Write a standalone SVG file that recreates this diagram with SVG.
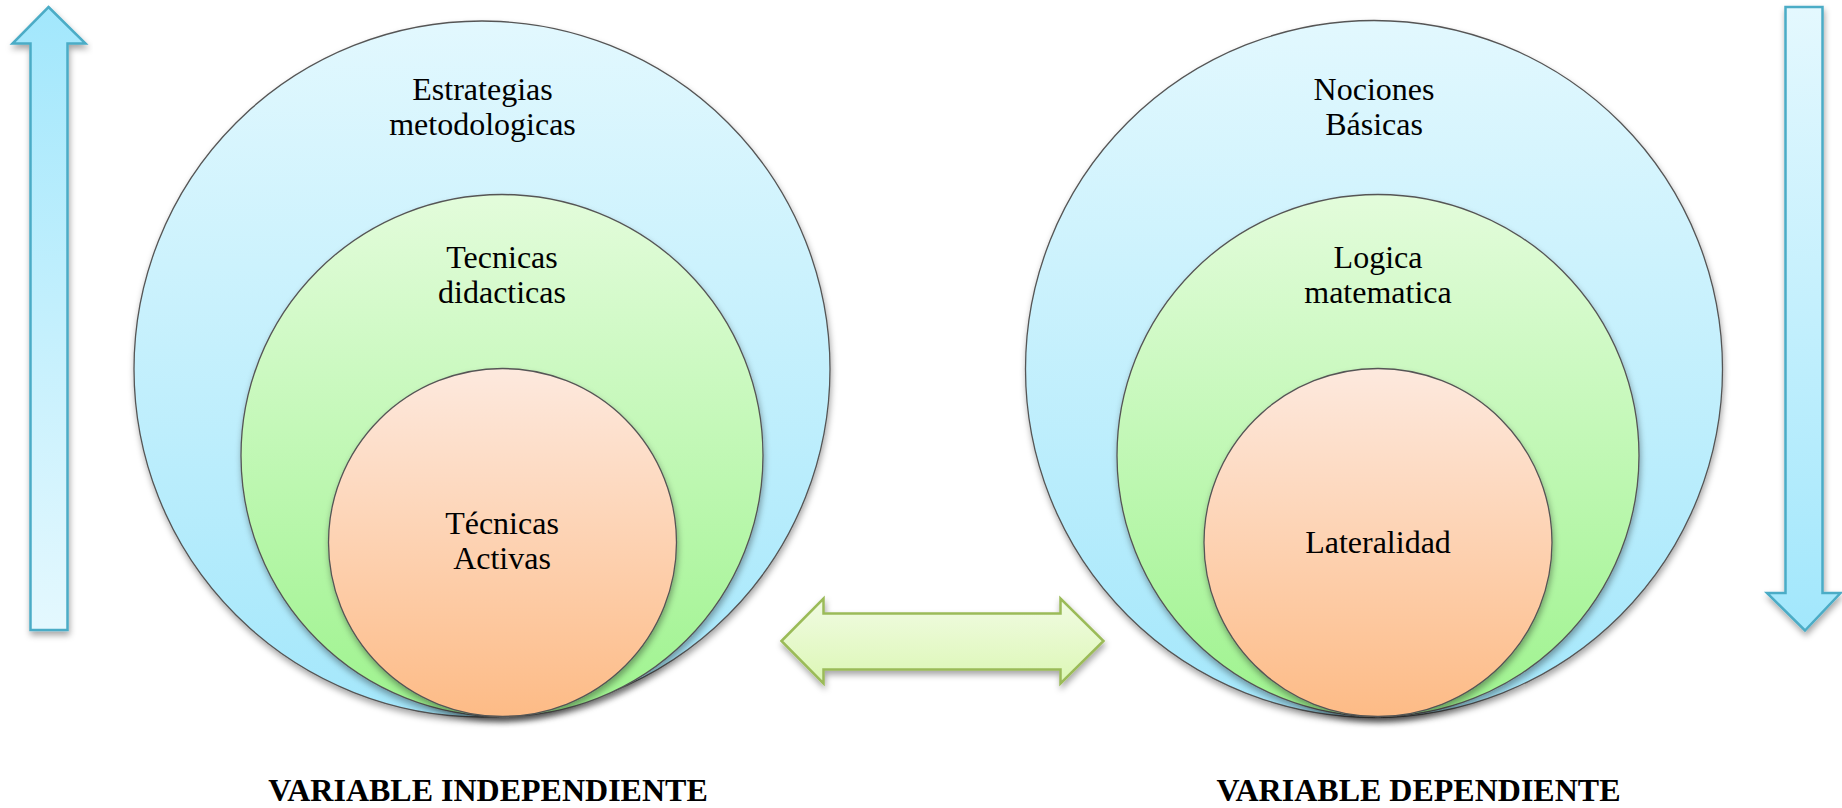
<svg xmlns="http://www.w3.org/2000/svg" width="1842" height="808" viewBox="0 0 1842 808">
<defs>
<linearGradient id="gBlue" x1="0" y1="0" x2="0" y2="1"><stop offset="0" stop-color="#e2f8fe"/><stop offset="1" stop-color="#a4e7fb"/></linearGradient>
<linearGradient id="gGreen" x1="0" y1="0" x2="0" y2="1"><stop offset="0" stop-color="#e3fcdb"/><stop offset="1" stop-color="#9ef38e"/></linearGradient>
<linearGradient id="gOrange" x1="0" y1="0" x2="0" y2="1"><stop offset="0" stop-color="#fde9de"/><stop offset="1" stop-color="#fdbb86"/></linearGradient>
<linearGradient id="gUp" x1="0" y1="0" x2="0" y2="1"><stop offset="0" stop-color="#a2e7fc"/><stop offset="1" stop-color="#e4f8fe"/></linearGradient>
<linearGradient id="gDown" x1="0" y1="0" x2="0" y2="1"><stop offset="0" stop-color="#e4f8fe"/><stop offset="1" stop-color="#a2e7fc"/></linearGradient>
<linearGradient id="gDbl" x1="0" y1="0" x2="0" y2="1"><stop offset="0" stop-color="#f1fbe3"/><stop offset="1" stop-color="#dcf7b5"/></linearGradient>
<filter id="sh" x="-10%" y="-10%" width="120%" height="125%"><feDropShadow dx="1" dy="4" stdDeviation="3" flood-color="#000" flood-opacity="0.35"/></filter>
</defs>
<style>
.c{stroke:#555;stroke-width:1.3}
.t{font-family:"Liberation Serif","Times New Roman",serif;font-size:32px;fill:#000;text-anchor:middle}
.h{font-family:"Liberation Serif","Times New Roman",serif;font-size:32px;font-weight:bold;fill:#000;text-anchor:middle}
.ab{stroke:#4bacc6;stroke-width:2.5;stroke-linejoin:miter}
.ag{stroke:#9bbb59;stroke-width:2.5;stroke-linejoin:miter}
</style>
<g id="left-set">
<g id="estrategias" filter="url(#sh)"><circle class="c" cx="482" cy="369" r="348" fill="url(#gBlue)"/></g>
<g id="tecnicas-didacticas" filter="url(#sh)"><circle class="c" cx="502" cy="455.5" r="261" fill="url(#gGreen)"/></g>
<g id="tecnicas-activas" filter="url(#sh)"><circle class="c" cx="502.5" cy="542.5" r="174" fill="url(#gOrange)"/></g>
<text class="t" x="482.5" y="100">Estrategias</text>
<text class="t" x="482.5" y="135">metodologicas</text>
<text class="t" x="502" y="268">Tecnicas</text>
<text class="t" x="502" y="303">didacticas</text>
<text class="t" x="502" y="534">Técnicas</text>
<text class="t" x="502" y="569">Activas</text>
</g>
<g id="right-set">
<g id="nociones" filter="url(#sh)"><circle class="c" cx="1374" cy="369" r="348.5" fill="url(#gBlue)"/></g>
<g id="logica" filter="url(#sh)"><circle class="c" cx="1378" cy="455.5" r="261" fill="url(#gGreen)"/></g>
<g id="lateralidad" filter="url(#sh)"><circle class="c" cx="1378" cy="542.5" r="174" fill="url(#gOrange)"/></g>
<text class="t" x="1374" y="100">Nociones</text>
<text class="t" x="1374" y="135">Básicas</text>
<text class="t" x="1378" y="268">Logica</text>
<text class="t" x="1378" y="303">matematica</text>
<text class="t" x="1378" y="553">Lateralidad</text>
</g>
<g id="connectors">
<polygon class="ab" filter="url(#sh)" fill="url(#gUp)" points="48.5,7 85.5,43.5 67.5,43.5 67.5,630 30.5,630 30.5,43.5 12.5,43.5"/>
<polygon class="ab" filter="url(#sh)" fill="url(#gDown)" points="1785.5,7 1822.5,7 1822.5,593 1840.5,593 1805,630.5 1767,593 1785.5,593"/>
<polygon class="ag" filter="url(#sh)" fill="url(#gDbl)" points="781.5,641 823.5,598.5 823.5,613.5 1060.5,613.5 1060.5,598.5 1103.5,641 1060.5,683.5 1060.5,669.5 823.5,669.5 823.5,683.5"/>
</g>
<g id="labels">
<text class="h" x="488" y="801">VARIABLE INDEPENDIENTE</text>
<text class="h" x="1418.5" y="801">VARIABLE DEPENDIENTE</text>
</g>
</svg>
